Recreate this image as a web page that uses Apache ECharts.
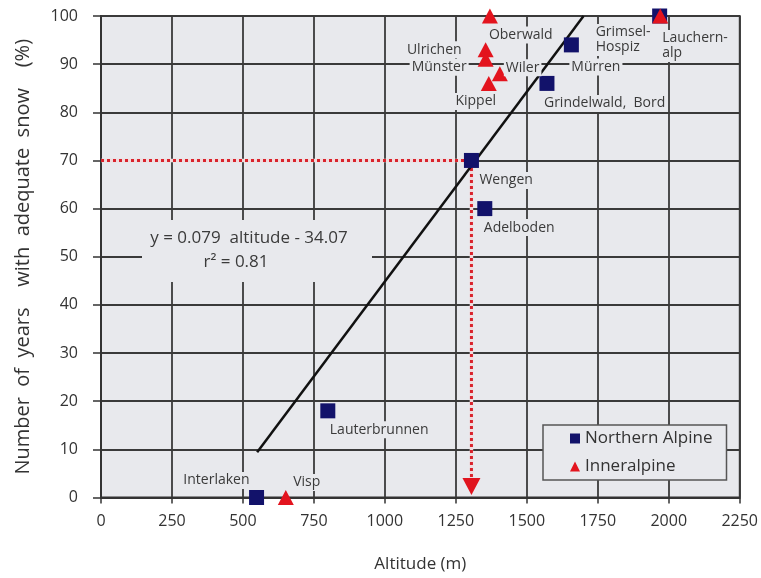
<!DOCTYPE html>
<html><head><meta charset="utf-8">
<script src="https://cdn.jsdelivr.net/npm/echarts@6/dist/echarts.min.js"></script>
<style>html,body{margin:0;padding:0;background:#fff}#c{width:761px;height:578px}</style>
</head><body><div id="c"></div>
<script>
// ---- data ----
const xTicks = [0, 250, 500, 750, 1000, 1250, 1500, 1750, 2000, 2250];
const yTicks = [0, 10, 20, 30, 40, 50, 60, 70, 80, 90, 100];
const northernNames = ['Interlaken', 'Lauterbrunnen', 'Wengen', 'Adelboden', 'Grindelwald,  Bord', 'Mürren', 'Grimsel-\nHospiz'];
const northernAlt = [548, 799, 1305, 1352, 1571, 1657, 1968];
const northernSnow = [0, 18, 70, 60, 86, 94, 100];
const innerNames = ['Visp', 'Oberwald', 'Ulrichen', 'Münster', 'Wiler', 'Kippel', 'Lauchern-\nalp'];
const innerAlt = [651, 1370, 1355, 1355, 1405, 1366, 1970];
const innerSnow = [0, 100, 93, 91, 88, 86, 100];
const regAlt = [550, 1700];
const regSnow = [9.4, 100];
const guideAlt = [0, 1305, 1305];
const guideSnow = [70, 70, 4];
const arrowAlt = [1305];
const arrowSnow = [2.3];
const equationText = ['y = 0.079  altitude - 34.07', 'r² = 0.81'];
const xTitle = 'Altitude (m)';
const yTitle = 'Number  of  years    with  adequate  snow    (%)';

// ---- styles ----
const PLOT_BG = '#e8e9ed';
const FONT = 'Open Sans';
const labelLayout = {
  'Interlaken': {align: 'right', offset: [-5, -17]},
  'Lauterbrunnen': {align: 'left', offset: [0, 19]},
  'Wengen': {align: 'left', offset: [6, 20]},
  'Adelboden': {align: 'left', offset: [-3, 19]},
  'Grindelwald,  Bord': {align: 'left', offset: [-5, 20]},
  'Mürren': {align: 'left', offset: [-2, 22]},
  'Grimsel-\nHospiz': {align: 'left', offset: [-66, 24]},
  'Visp': {align: 'center', offset: [21, -15]},
  'Oberwald': {align: 'left', offset: [-3, 19]},
  'Ulrichen': {align: 'right', offset: [-22, 0]},
  'Münster': {align: 'right', offset: [-17, 8]},
  'Wiler': {align: 'left', offset: [4, -6]},
  'Kippel': {align: 'center', offset: [-13, 18]},
  'Lauchern-\nalp': {align: 'left', offset: [0, 30]}
};
function pts(names, xs, ys) {
  return names.map((n, i) => ({
    name: n, value: [xs[i], ys[i]],
    label: {
      show: true, position: 'inside', formatter: n,
      align: labelLayout[n].align, verticalAlign: 'middle', offset: labelLayout[n].offset,
      color: '#3a3a3a', fontFamily: FONT, fontSize: 14, lineHeight: 15,
      backgroundColor: PLOT_BG, padding: [1, 2]
    }
  }));
}
const guideData = guideAlt.map((x, i) => [x, guideSnow[i]]);

const chart = echarts.init(document.getElementById('c'), null, {renderer: 'canvas'});
chart.setOption({
  backgroundColor: '#ffffff',
  animation: false,
  textStyle: {fontFamily: FONT},
  grid: {left: 101, right: 18, top: 16, bottom: 80.5, show: true, backgroundColor: PLOT_BG,
         borderColor: '#333', borderWidth: 1.8},
  xAxis: {
    type: 'value', min: xTicks[0], max: xTicks[xTicks.length - 1], interval: 250,
    name: xTitle, nameLocation: 'middle', nameGap: 58,
    nameTextStyle: {fontSize: 17, color: '#333', fontFamily: FONT},
    axisLine: {show: true, lineStyle: {color: '#333', width: 1.8}},
    axisTick: {show: true, length: 6, inside: false, lineStyle: {color: '#333', width: 1.5}},
    axisLabel: {fontSize: 16, color: '#333', margin: 16, fontFamily: FONT, formatter: v => String(v)},
    splitLine: {show: true, lineStyle: {color: '#3a3a3a', width: 1.8}}
  },
  yAxis: {
    type: 'value', min: yTicks[0], max: yTicks[yTicks.length - 1], interval: 10,
    name: yTitle, nameLocation: 'middle', nameGap: 68,
    nameTextStyle: {fontSize: 20, color: '#333', fontFamily: FONT},
    axisLine: {show: true, lineStyle: {color: '#333', width: 1.8}},
    axisTick: {show: true, length: 8, inside: false, lineStyle: {color: '#333', width: 1.5}},
    axisLabel: {fontSize: 16, color: '#333', margin: 23, fontFamily: FONT},
    splitLine: {show: true, lineStyle: {color: '#3a3a3a', width: 1.8}}
  },
  legend: {
    data: [{name: 'Northern Alpine', icon: 'rect'}, {name: 'Inneralpine', icon: 'triangle'}],
    orient: 'vertical', left: 543, top: 425,
    itemWidth: 10, itemHeight: 10, itemGap: 11,
    padding: [5, 14, 5, 27],
    backgroundColor: PLOT_BG, borderColor: '#555', borderWidth: 1.5,
    textStyle: {fontSize: 17, color: '#333', fontFamily: FONT}
  },
  graphic: [
    {type: 'rect', z: 1, shape: {x: 142, y: 220, width: 230, height: 62}, style: {fill: PLOT_BG}},
    {type: 'text', z: 2, style: {text: equationText[0], x: 249, y: 238, align: 'center', verticalAlign: 'middle',
      font: '17px "Open Sans"', fill: '#3a3a3a'}},
    {type: 'text', z: 2, style: {text: equationText[1], x: 236, y: 262, align: 'center', verticalAlign: 'middle',
      font: '17px "Open Sans"', fill: '#3a3a3a'}}
  ],
  series: [
    {
      name: 'guideUnder', type: 'line', z: 3, silent: true, symbol: 'none',
      data: guideData,
      lineStyle: {color: '#efdcde', width: 3.5}
    },
    {
      name: 'guide', type: 'line', z: 3, silent: true, symbol: 'none',
      data: guideData,
      lineStyle: {color: '#d9232c', width: 3, type: [3, 3]}
    },
    {
      name: 'arrow', type: 'scatter', z: 3, silent: true, symbol: 'triangle', symbolSize: [18, 17], symbolRotate: 180,
      data: arrowAlt.map((x, i) => [x, arrowSnow[i]]),
      itemStyle: {color: '#e0141e', opacity: 1}
    },
    {
      name: 'regression', type: 'line', z: 4, silent: true, symbol: 'none',
      data: regAlt.map((x, i) => [x, regSnow[i]]),
      lineStyle: {color: '#111', width: 2.5}
    },
    {
      name: 'Northern Alpine', type: 'scatter', z: 5, symbol: 'rect', symbolSize: 15,
      itemStyle: {color: '#12126a', opacity: 1},
      data: pts(northernNames, northernAlt, northernSnow)
    },
    {
      name: 'Inneralpine', type: 'scatter', z: 6, symbol: 'triangle', symbolSize: [16, 15],
      itemStyle: {color: '#e3141e', opacity: 1},
      data: pts(innerNames, innerAlt, innerSnow)
    }
  ]
});
</script>
</body></html>
